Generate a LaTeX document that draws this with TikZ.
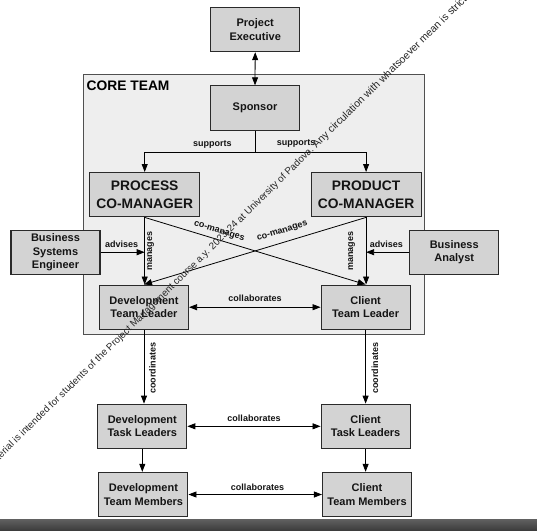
\documentclass[tikz,border=0pt]{standalone}
\usepackage{fontspec}
\setmainfont{Liberation Sans}
\usetikzlibrary{arrows.meta,calc}
\definecolor{boxfill}{HTML}{D3D3D3}
\definecolor{corefill}{HTML}{EEEEEE}
\definecolor{edgec}{HTML}{2A2A2A}
\definecolor{coreedge}{HTML}{505050}
\tikzset{
  box/.style={draw=edgec, line width=1.1pt, fill=boxfill, inner sep=0pt,
    minimum width=89pt, minimum height=44.3pt, align=center,
    font=\bfseries\fontsize{11}{13.3}\selectfont, text=black!92},
  bigbox/.style={box, minimum width=110pt, font=\bfseries\fontsize{13.8}{18.6}\selectfont},
  tip/.tip={Triangle[length=8pt,width=6pt]},
  conn/.style={draw=black, line width=0.8pt, -tip},
  twoway/.style={draw=black, line width=0.8pt, tip-tip},
  lbl/.style={font=\bfseries\fontsize{9}{10}\selectfont, inner sep=0pt, text=black!92},
  wm/.style={font=\fontsize{9.8}{12}\selectfont, rotate=44.5, inner sep=0pt, text=black!85},
}
\begin{document}
\begin{tikzpicture}[x=1pt,y=-1pt]
\useasboundingbox (0,0) rectangle (537,530);
\fill[white] (0,0) rectangle (537,530);

% core team frame
\draw[draw=coreedge, line width=0.9pt, fill=corefill] (83.6,74.7) rectangle (424.7,334);
\node[anchor=west, inner sep=0pt, font=\bfseries\fontsize{13.8}{16}\selectfont] (coretitle) at (86.5,85.5) {CORE TEAM};

% nodes
\node[box] (exec) at (255.2,29.5) {Project\\Executive};
\node[box] (sponsor) at (255.0,108.0) {Sponsor};
\node[bigbox] (process) at (144.7,194.7) {PROCESS\\CO-MANAGER};
\node[bigbox] (product) at (366.1,194.7) {PRODUCT\\CO-MANAGER};
\node[box] (bse) at (55.5,252.2) {Business\\Systems\\Engineer};
\node[box] (ba) at (454.2,252.2) {Business\\Analyst};
\node[box] (dtl) at (144.0,307.2) {Development\\Team Leader};
\node[box] (ctl) at (365.6,307.2) {Client\\Team Leader};
\node[box] (dtk) at (142.3,426.3) {Development\\Task Leaders};
\node[box] (ctk) at (365.6,426.3) {Client\\Task Leaders};
\node[box] (dtm) at (143.4,494.5) {Development\\Team Members};
\node[box] (ctm) at (367.0,494.5) {Client\\Team Members};

% connectors
\draw[twoway] (exec.south) -- (sponsor.north);
\coordinate (split) at ($(sponsor.south)+(0,21.7)$);
\draw[conn] (sponsor.south) -- (split) -| (process.north);
\draw[conn] (split) -| (product.north);
\node[lbl] (supL) at (212.3,144.5) {supports};
\node[lbl] (supR) at (296.0,143.5) {supports};

\draw[conn] (process.south) -- (process.south |- dtl.north);
\draw[conn] (product.south) -- (product.south |- ctl.north);
\node[lbl, rotate=90] (manL) at (150.7,251.3) {manages};
\node[lbl, rotate=90] (manR) at (351.7,251.3) {manages};

\draw[conn] (process.south) -- (ctl.north);
\draw[conn] (product.south) -- (dtl.north);
\node[lbl, rotate=-17.5] (comL) at (219.0,231.7) {co-manages};
\node[lbl, rotate=17.3] (comR) at (282.5,231.7) {co-manages};

\draw[conn] (bse.east) -- (process.south |- bse.east);
\draw[conn] (ba.west) -- (product.south |- ba.west);
\node[lbl] (advL) at (121.6,244.5) {advises};
\node[lbl] (advR) at (386.3,244.5) {advises};

\draw[twoway] (dtl.east) -- (ctl.west);
\node[lbl] (colA) at (255.0,298.0) {collaborates};

\draw[conn] (dtl.south) -- (dtl.south |- dtk.north);
\draw[conn] (ctl.south) -- (ctl.south |- ctk.north);
\node[lbl, rotate=90] (cooL) at (152.4,368.3) {coordinates};
\node[lbl, rotate=90] (cooR) at (375.0,368.3) {coordinates};

\draw[twoway] (dtk.east) -- (ctk.west);
\node[lbl] (colB) at (254.0,418.0) {collaborates};

\draw[conn] (dtk.south) -- (dtk.south |- dtm.north);
\draw[conn] (ctk.south) -- (ctk.south |- ctm.north);

\draw[twoway] (dtm.east) -- (ctm.west);
\node[lbl] (colC) at (257.5,487.5) {collaborates};

% bottom bar
\shade[top color=black!62, bottom color=black!76] (0,519) rectangle (537,530);

% watermark
\begin{scope}
\clip (0,0) rectangle (537,530);
\node[wm, anchor=base east] (wmA) at (314.5,150.5) {This material is intended for students of the Project Management course a.y. 2023-24 at University of Padova.};
\node[wm, anchor=base west, font=\fontsize{10.5}{12}\selectfont] (wmB) at (316.5,148.5) {Any circulation with whatsoever mean is strictly forbidden.};
\end{scope}
\end{tikzpicture}
\end{document}
